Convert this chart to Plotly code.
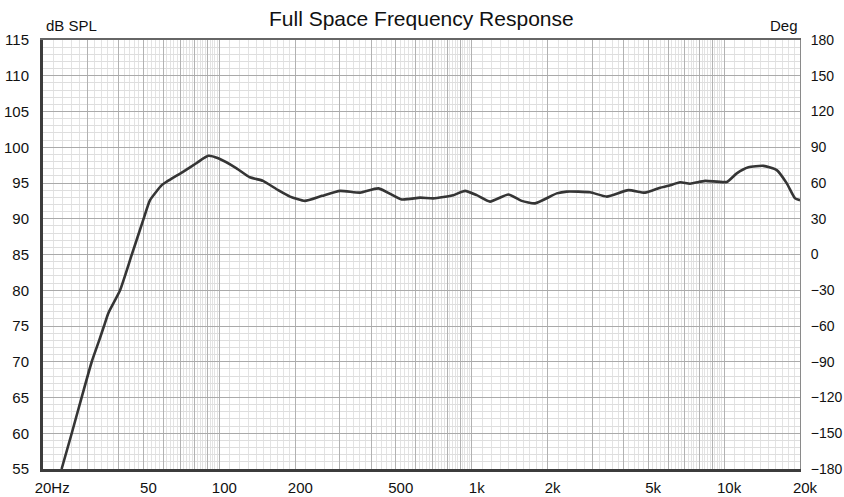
import numpy as np
import plotly.graph_objects as go

# ---- data ----
freq_hz = [23.7, 26.0, 28.5, 31.2, 33.4, 34.9, 36.3, 40.4, 44.9, 50.0, 53.1,
           59.1, 61.9, 72.0, 81.3, 90.4, 99.0, 117, 132, 149, 171, 190.6, 218,
           255, 301, 361, 427, 528, 624, 705, 846, 941, 1047, 1182, 1397, 1578,
           1782, 2174, 2381, 2946, 3430, 4178, 4864, 5580, 6018, 6698, 7335,
           8414, 10256, 11232, 12490, 14320, 16180, 17730, 19126, 20000]
spl_db = [55.0, 60.0, 65.1, 70.0, 73.0, 75.0, 76.8, 80.0, 84.9, 89.9, 92.6,
          94.7, 95.2, 96.6, 97.8, 98.8, 98.45, 97.05, 95.8, 95.3, 94.0, 93.1, 92.5,
          93.2, 93.9, 93.65, 94.25, 92.7, 92.95, 92.85, 93.3, 93.9, 93.3, 92.4, 93.4, 92.5,
          92.15, 93.55, 93.8, 93.7, 93.1, 94.0, 93.65, 94.35, 94.6, 95.1, 94.9,
          95.3, 95.15, 96.35, 97.2, 97.4, 96.8, 94.95, 92.85, 92.6]

x_tick_vals = [20, 50, 100, 200, 500, 1000, 2000, 5000, 10000, 20000]
x_tick_text = ["&nbsp;&nbsp;20Hz", "50", "100", "200", "500", "1k", "2k", "5k", "10k", "20k"]
db_ticks = [55, 60, 65, 70, 75, 80, 85, 90, 95, 100, 105, 110, 115]
deg_ticks = [-180, -150, -120, -90, -60, -30, 0, 30, 60, 90, 120, 150, 180]

# grid positions (log paper)
major_x = []
minor_x = []
for dec in [10, 100, 1000, 10000]:
    for m in range(1, 10):
        v = m * dec
        if 20 <= v <= 20000:
            major_x.append(v)
    for m in np.arange(1.0, 10.0, 0.1):
        step_ok = (m < 2) or (round(m * 10) % 2 == 0)
        v = round(m * dec, 6)
        if step_ok and 20 <= v <= 20000 and abs(m - round(m)) > 1e-6:
            minor_x.append(v)
if 20000 not in major_x:
    major_x.append(20000)

label_map = dict(zip(x_tick_vals, x_tick_text))
all_x_text = [label_map.get(v, "") for v in major_x]

FONT = "Liberation Sans, Arial, sans-serif"

fig = go.Figure()
fig.add_trace(go.Scatter(
    x=freq_hz, y=spl_db, mode="lines",
    line=dict(color="#353535", width=2.6, shape="spline", smoothing=0.5),
    hoverinfo="skip", showlegend=False))
# empty trace so the overlay (phase) axes exist
fig.add_trace(go.Scatter(x=[], y=[], xaxis="x2", yaxis="y2", mode="lines",
                         hoverinfo="skip", showlegend=False))

fig.update_layout(
    width=844, height=497,
    margin=dict(l=43, r=44, t=40, b=28, autoexpand=False),
    paper_bgcolor="white", plot_bgcolor="white",
    font=dict(family=FONT, size=15, color="#111"),
    showlegend=False,
    xaxis=dict(
        type="log", range=[np.log10(20), np.log10(20000)],
        tickmode="array", tickvals=major_x, ticktext=all_x_text,
        showgrid=True, gridcolor="#b2b2b2", gridwidth=1,
        minor=dict(tickmode="array", tickvals=minor_x, showgrid=True,
                   gridcolor="#e3e3e3", gridwidth=1, ticks=""),
        ticks="", showline=True, linecolor="#3c3c3c", linewidth=3,
        zeroline=False, ticklabelshift=5, ticklabelstandoff=3,
        tickfont=dict(size=15, color="#111"), automargin=False,
    ),
    xaxis2=dict(
        type="log", range=[np.log10(20), np.log10(20000)],
        overlaying="x", side="top", anchor="y2",
        showgrid=False, showticklabels=False, ticks="",
        showline=True, linecolor="#666", linewidth=1.5, zeroline=False,
        automargin=False,
    ),
    yaxis=dict(
        range=[55, 115], tickmode="array", tickvals=db_ticks,
        showgrid=True, gridcolor="#aaaaaa", gridwidth=1,
        minor=dict(dtick=1, showgrid=True, gridcolor="#dedede", gridwidth=1, ticks=""),
        ticks="", showline=True, linecolor="#3c3c3c", linewidth=3,
        zeroline=False, ticklabelstandoff=8,
        tickfont=dict(size=15, color="#111"), automargin=False,
    ),
    yaxis2=dict(
        range=[-180, 180], tickmode="array", tickvals=deg_ticks,
        overlaying="y", side="right", anchor="x2",
        showgrid=False, ticks="", showline=True, linecolor="#8a8a8a", linewidth=1,
        zeroline=False, ticklabelstandoff=7,
        tickfont=dict(size=14, color="#111"), automargin=False,
    ),
    annotations=[
        dict(text="Full Space Frequency Response", xref="paper", yref="paper",
             x=0.5, y=1, yshift=22, xanchor="center", yanchor="middle",
             showarrow=False, font=dict(size=21, color="#111", family=FONT)),
        dict(text="dB SPL", xref="paper", yref="paper", x=0, y=1, xshift=1, yshift=15,
             xanchor="left", yanchor="middle", showarrow=False,
             font=dict(size=15, color="#111", family=FONT)),
        dict(text="Deg", xref="paper", yref="paper", x=1, y=1, xshift=0, yshift=15,
             xanchor="right", yanchor="middle", showarrow=False,
             font=dict(size=15, color="#111", family=FONT)),
    ],
)

fig.write_html("out.html",
               config={"displayModeBar": False},
               post_script="document.body.style.margin='0';document.body.style.overflow='hidden';")
